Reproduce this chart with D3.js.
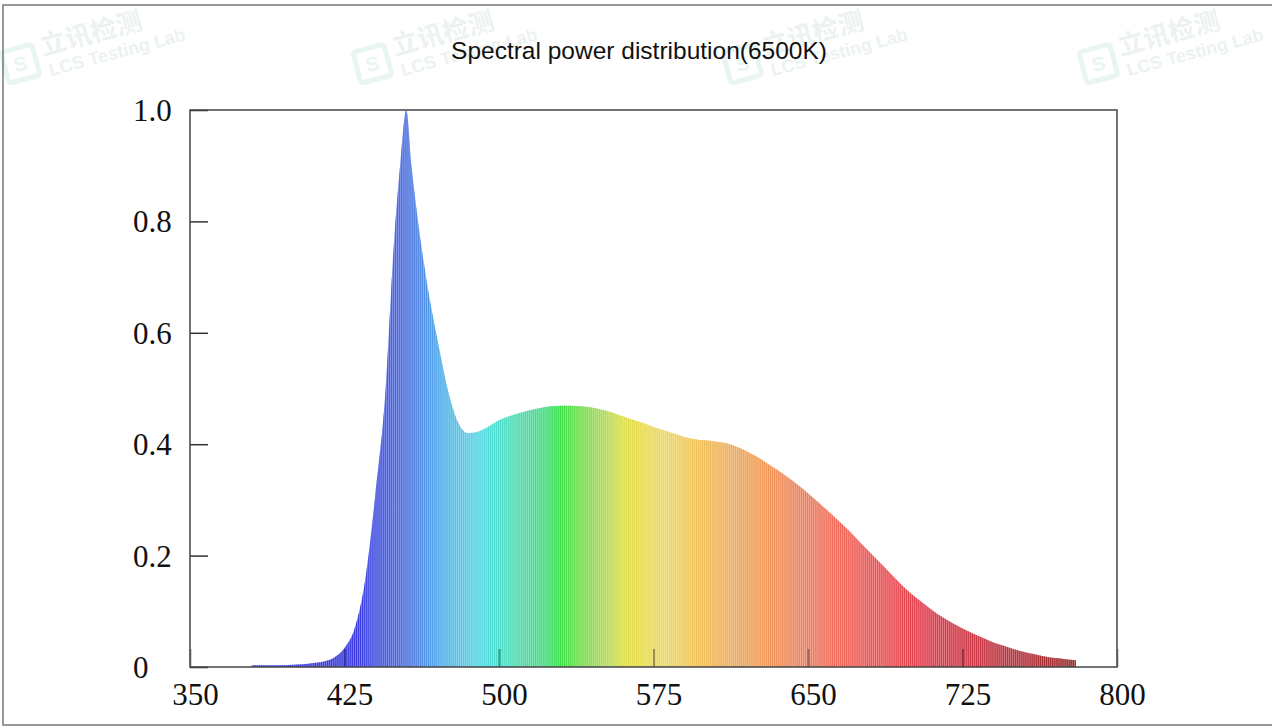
<!DOCTYPE html>
<html>
<head>
<meta charset="utf-8">
<script src="https://cdn.jsdelivr.net/npm/d3@7"></script>
<style>
  body { margin: 0; background: #fff; }
  svg { display: block; }
</style>
</head>
<body>
<div id="chart"></div>
<script>
// 分光分布 (6500K)

var title = 'Spectral power distribution(6500K)';

// 波長 (nm)
var wavelengths = [380, 385, 390, 395, 400, 405, 410, 415, 420, 425, 430, 435, 440, 445, 449, 452, 455, 457.5, 460, 465, 470, 475, 480, 485,
  490, 495, 500, 505, 510, 515, 520, 525, 530, 535, 540, 545, 550, 555, 560, 565, 570, 575, 580, 585,
  590, 595, 600, 605, 610, 615, 620, 625, 630, 635, 640, 645, 650, 655, 660, 665, 670, 675, 680, 685,
  690, 695, 700, 705, 710, 715, 720, 725, 730, 735, 740, 745, 750, 755, 760, 765, 770, 775, 780];

// 相対強度
var power = [0.003, 0.003, 0.003, 0.003, 0.004, 0.005, 0.007, 0.010, 0.017, 0.034, 0.07, 0.155, 0.31, 0.50, 0.76, 0.90, 1.0, 0.90, 0.82, 0.69, 0.59, 0.50, 0.44, 0.42,
  0.423, 0.432, 0.443, 0.45, 0.456, 0.461, 0.465, 0.468, 0.469, 0.469, 0.468, 0.466, 0.462, 0.457, 0.45, 0.444, 0.438, 0.431, 0.425, 0.419,
  0.413, 0.409, 0.407, 0.405, 0.402, 0.396, 0.388, 0.378, 0.366, 0.354, 0.341, 0.327, 0.312, 0.296, 0.279, 0.262, 0.244, 0.225, 0.206, 0.187,
  0.168, 0.149, 0.132, 0.117, 0.103, 0.090, 0.079, 0.069, 0.060, 0.052, 0.044, 0.038, 0.032, 0.027, 0.023, 0.019, 0.016, 0.014, 0.012];

var xTicks = [350, 425, 500, 575, 650, 725, 800];
var yTicks = [0, 0.2, 0.4, 0.6, 0.8, 1.0];

// 波長ごとの色
var colorStops = [380, 430, 455, 475, 490, 505, 520, 530, 545, 560, 580, 600, 625, 650, 680, 710, 745, 780];
var colorValues = ['#3c3cd8', '#3a3ae0', '#4c70e0', '#52b4e8', '#52d8e6', '#4cdcbc', '#44dc88', '#3cdc4c', '#8cdc4c', '#dcdc4c', '#eed85a', '#eebc5a', '#ee9c54', '#ee7c5c', '#ee5454', '#dc3c4c', '#bc3440', '#962c2c'];

var width = 1272;
var height = 727;
var margin = { top: 110, right: 155, bottom: 60, left: 190 };
var w = width - margin.left - margin.right;
var h = height - margin.top - margin.bottom;

var svg = d3.select('#chart').append('svg')
  .attr('width', width)
  .attr('height', height);

svg.append('rect').attr('width', width).attr('height', height).attr('fill', '#fff');

// 外枠
svg.append('rect')
  .attr('x', 3).attr('y', 5)
  .attr('width', width + 10).attr('height', 720)
  .attr('fill', 'none')
  .attr('stroke', '#777')
  .attr('stroke-width', 1.5);

// 透かし
var marks = [[20, 70], [372, 70], [742, 70], [1098, 70]];
marks.forEach(function(m) {
  var g = svg.append('g')
    .attr('transform', 'translate(' + m[0] + ',' + m[1] + ') rotate(-15)')
    .attr('opacity', 0.09);
  g.append('rect').attr('x', -14).attr('y', -22).attr('width', 32).attr('height', 32).attr('rx', 3)
    .attr('fill', 'none').attr('stroke', '#1a9a60').attr('stroke-width', 5);
  g.append('text').attr('x', 2).attr('y', 1).attr('text-anchor', 'middle')
    .style('font', 'bold 20px "Liberation Sans"').attr('fill', '#1a9a60').text('S');
  g.append('text').attr('x', 26).attr('y', -8)
    .style('font', 'bold 26px "Noto Sans CJK SC"').attr('fill', '#2a7a5a').text('立讯检测');
  g.append('text').attr('x', 28).attr('y', 14)
    .style('font', 'bold 18px "Liberation Sans"').attr('fill', '#2a7a5a').text('LCS Testing Lab');
});

// タイトル
svg.append('text')
  .attr('x', 639)
  .attr('y', 59)
  .attr('text-anchor', 'middle')
  .style('font-family', '"Liberation Sans", Arial, sans-serif')
  .style('font-size', '24.5px')
  .attr('fill', '#111')
  .text(title);

var baseLayer = svg.append('g')
  .attr('transform', 'translate(' + margin.left + ',' + margin.top + ')');

var xScale = d3.scaleLinear().domain([350, 800]).range([0, w]);
var yScale = d3.scaleLinear().domain([0, 1]).range([h, 0]);
var colorScale = d3.scaleLinear().domain(colorStops).range(colorValues).clamp(true);

var data = wavelengths.map(function(d, i) {
  return { wl: d, v: power[i] };
});

var area = d3.area()
  .x(function(d) { return xScale(d.wl); })
  .y0(h)
  .y1(function(d) { return yScale(d.v); })
  .curve(d3.curveMonotoneX);

var defs = svg.append('defs');
defs.append('clipPath').attr('id', 'spd-clip')
  .append('path').datum(data).attr('d', area);

var grad = defs.append('linearGradient').attr('id', 'spd-grad')
  .attr('gradientUnits', 'userSpaceOnUse')
  .attr('x1', xScale(380)).attr('x2', xScale(780))
  .attr('y1', 0).attr('y2', 0);
grad.selectAll('stop').data(colorStops).enter().append('stop')
  .attr('offset', function(d) { return (d - 380) / 400; })
  .attr('stop-color', function(d) { return colorScale(d); });

// 下地
baseLayer.append('path').datum(data)
  .attr('d', area)
  .attr('fill', 'url(#spd-grad)')
  .attr('opacity', 0.6);

// 縦縞 (1nm ごと)
var stripeLayer = baseLayer.append('g').attr('clip-path', 'url(#spd-clip)');
var stepW = xScale(351) - xScale(350);
stripeLayer.selectAll('rect')
  .data(d3.range(380, 781))
  .enter()
  .append('rect')
  .attr('x', function(d) { return xScale(d) - stepW / 2; })
  .attr('y', 0)
  .attr('width', stepW * 0.6)
  .attr('height', h)
  .attr('fill', function(d) { return colorScale(d); });

// x軸
var xaxis = d3.axisBottom(xScale)
  .tickValues(xTicks)
  .tickSize(-18)
  .tickPadding(0)
  .tickFormat(d3.format('d'));

var xaxisLayer = baseLayer.append('g')
  .attr('transform', 'translate(0,' + h + ')')
  .call(xaxis);
xaxisLayer.select('.domain').remove();
xaxisLayer.selectAll('line')
  .attr('stroke', '#000')
  .attr('stroke-opacity', 0.35)
  .attr('stroke-width', 2);
xaxisLayer.selectAll('text')
  .attr('x', 5)
  .attr('y', 38)
  .attr('dy', 0)
  .attr('fill', '#111')
  .style('font-family', '"Liberation Serif", "Times New Roman", serif')
  .style('font-size', '31px');

// y軸
var yaxis = d3.axisLeft(yScale)
  .tickValues(yTicks)
  .tickSize(-18)
  .tickFormat(function(d) { return d === 0 ? '0' : d3.format('.1f')(d); });

var yaxisLayer = baseLayer.append('g').call(yaxis);
yaxisLayer.select('.domain').remove();
yaxisLayer.selectAll('line')
  .attr('stroke', '#333')
  .attr('stroke-width', 1.5);
yaxisLayer.selectAll('text')
  .attr('x', -57)
  .attr('dy', '0.34em')
  .attr('text-anchor', 'start')
  .attr('fill', '#111')
  .style('font-family', '"Liberation Serif", "Times New Roman", serif')
  .style('font-size', '31px');

// 枠
baseLayer.append('rect')
  .attr('width', w)
  .attr('height', h)
  .attr('fill', 'none')
  .attr('stroke', '#444')
  .attr('stroke-width', 1.5);
</script>
</body>
</html>
